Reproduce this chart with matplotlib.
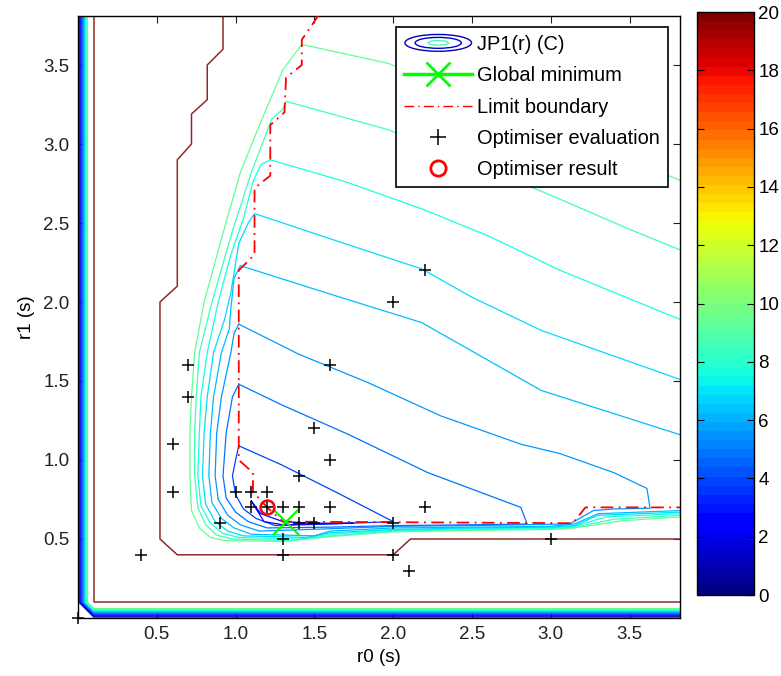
import numpy as np
import matplotlib
matplotlib.use("Agg")
import matplotlib.pyplot as plt
from matplotlib.colors import Normalize
from matplotlib.cm import ScalarMappable
from matplotlib.lines import Line2D
from matplotlib.patches import Ellipse
from matplotlib.legend_handler import HandlerBase

plt.rcParams['font.family'] = ['Liberation Sans', 'DejaVu Sans']

# contour lines of JP1(r) (r0, r1)
lvl10_x = [3.82, 3.5, 3.0, 2.5, 1.97, 1.42, 1.30, 1.16, 1.03, 0.91, 0.80, 0.74, 0.72, 0.71, 0.71, 0.72, 0.77, 0.84, 0.93, 1.3, 1.6, 2.0, 2.5, 3.0, 3.15, 3.45, 3.82]
lvl10_y = [2.77, 2.9, 3.1, 3.3, 3.51, 3.63, 3.47, 3.14, 2.82, 2.4, 2.0, 1.68, 1.4, 1.17, 0.9, 0.68, 0.57, 0.51, 0.49, 0.485, 0.515, 0.545, 0.555, 0.56, 0.57, 0.615, 0.64]
lvl9_x = [3.82, 3.5, 3.06, 2.87, 2.4, 1.97, 1.32, 1.30, 1.23, 1.10, 0.98, 0.85, 0.77, 0.75, 0.74, 0.74, 0.76, 0.81, 0.88, 0.98, 1.35, 1.6, 2.0, 2.5, 3.0, 3.15, 3.4, 3.82]
lvl9_y = [2.33, 2.46, 2.65, 2.73, 2.91, 3.09, 3.27, 3.22, 3.16, 2.82, 2.45, 2.0, 1.68, 1.4, 1.17, 0.9, 0.7, 0.59, 0.525, 0.5, 0.49, 0.52, 0.55, 0.56, 0.565, 0.575, 0.625, 0.65]
lvl8_x = [3.82, 3.06, 2.6, 2.18, 1.7, 1.22, 1.16, 1.11, 1.05, 0.97, 0.89, 0.82, 0.78, 0.77, 0.76, 0.78, 0.84, 0.92, 1.02, 1.4, 1.6, 2.0, 2.5, 3.0, 3.15, 3.35, 3.82]
lvl8_y = [1.89, 2.2, 2.42, 2.59, 2.76, 2.90, 2.87, 2.76, 2.53, 2.3, 2.0, 1.68, 1.4, 1.17, 0.9, 0.71, 0.6, 0.535, 0.51, 0.5, 0.53, 0.555, 0.565, 0.57, 0.58, 0.64, 0.66]
lvl7_x = [3.82, 2.94, 2.5, 2.18, 1.6, 1.12, 1.08, 1.02, 0.97, 0.93, 0.86, 0.82, 0.80, 0.79, 0.81, 0.87, 0.95, 1.05, 1.45, 1.6, 2.0, 2.5, 3.0, 3.15, 3.3, 3.82]
lvl7_y = [1.51, 1.82, 2.03, 2.21, 2.4, 2.56, 2.5, 2.37, 2.06, 1.89, 1.68, 1.4, 1.17, 0.9, 0.72, 0.61, 0.55, 0.52, 0.51, 0.54, 0.56, 0.57, 0.575, 0.585, 0.65, 0.67]
lvl6_x = [3.82, 2.94, 2.18, 1.6, 1.03, 0.99, 0.97, 0.96, 0.91, 0.86, 0.84, 0.83, 0.85, 0.91, 0.99, 1.1, 1.5, 1.6, 2.0, 2.5, 3.0, 3.15, 3.3, 3.82]
lvl6_y = [1.16, 1.44, 1.87, 2.05, 2.23, 2.15, 1.96, 1.83, 1.68, 1.4, 1.17, 0.9, 0.73, 0.63, 0.57, 0.53, 0.52, 0.55, 0.57, 0.575, 0.58, 0.595, 0.66, 0.68]
lvl5_x = [1.02, 1.4, 1.84, 2.30, 2.81, 3.06, 3.4, 3.61, 3.63, 3.4, 3.27, 3.2, 3.12, 2.5, 2.0, 1.6, 1.15, 1.03, 0.95, 0.89, 0.87, 0.88, 0.91, 0.97, 0.99, 1.02]
lvl5_y = [1.86, 1.67, 1.49, 1.28, 1.10, 1.04, 0.92, 0.82, 0.695, 0.69, 0.68, 0.64, 0.595, 0.585, 0.58, 0.565, 0.55, 0.59, 0.65, 0.75, 0.9, 1.17, 1.4, 1.68, 1.8, 1.86]
lvl4_x = [1.02, 1.29, 1.72, 2.22, 2.81, 2.85, 2.5, 2.0, 1.6, 1.2, 1.08, 1.0, 0.94, 0.92, 0.94, 0.98, 1.02]
lvl4_y = [1.48, 1.35, 1.16, 0.92, 0.70, 0.595, 0.59, 0.585, 0.575, 0.57, 0.61, 0.67, 0.76, 0.9, 1.17, 1.4, 1.48]
lvl3_x = [1.02, 1.29, 1.65, 2.0, 1.6, 1.25, 1.13, 1.05, 1.0, 0.98, 1.0, 1.02]
lvl3_y = [1.09, 0.97, 0.79, 0.61, 0.595, 0.585, 0.63, 0.69, 0.78, 0.9, 1.0, 1.09]
lvl2_x = [1.10, 1.16, 1.3, 1.5, 1.75, 1.5, 1.3, 1.18, 1.10]
lvl2_y = [0.74, 0.66, 0.61, 0.60, 0.60, 0.595, 0.59, 0.61, 0.74]

line_x = [lvl10_x, lvl9_x, lvl8_x, lvl7_x, lvl6_x, lvl5_x, lvl4_x, lvl3_x, lvl2_x]
line_y = [lvl10_y, lvl9_y, lvl8_y, lvl7_y, lvl6_y, lvl5_y, lvl4_y, lvl3_y, lvl2_y]
# contour values, estimated from the line colours
line_levels = [9.4, 8.5, 7.6, 6.8, 6.2, 5.5, 4.8, 3.8, 2.6]

# crowded contours hugging the r0 = 0 and r1 = 0 edges
edge_levels = [0.5, 1.5, 2.5, 3.5, 4.5, 5.5, 6.5, 7.5, 8.5, 9.5]
edge_offsets = [0.006, 0.012, 0.018, 0.024, 0.03, 0.036, 0.042, 0.048, 0.054, 0.06]

# top-level contour (dark red)
outer_red_x = [0.1, 0.1, 3.82]
outer_red_y = [3.82, 0.1, 0.1]
inner_red_x = [0.92, 0.92, 0.82, 0.82, 0.72, 0.72, 0.63, 0.63, 0.52, 0.52, 0.63, 2.0, 2.11, 3.82]
inner_red_y = [3.82, 3.6, 3.5, 3.28, 3.19, 3.0, 2.9, 2.1, 2.0, 0.5, 0.4, 0.4, 0.5, 0.5]

# limit boundary
limit_x = [1.53, 1.42, 1.42, 1.32, 1.31, 1.22, 1.22, 1.12, 1.12, 1.02, 1.02, 1.11, 1.11, 1.2, 1.3, 3.14, 3.22, 3.82]
limit_y = [3.82, 3.66, 3.5, 3.42, 3.2, 3.12, 2.8, 2.72, 2.3, 2.2, 1.0, 0.92, 0.8, 0.7, 0.61, 0.6, 0.7, 0.7]

# optimiser evaluations
eval_x = [2.2, 2.0, 1.6, 1.5, 1.6, 1.4, 0.7, 0.7, 0.6, 0.6, 0.9, 0.4, 1.0, 1.1, 1.2, 1.1, 1.2, 1.3, 1.4,
          1.4, 1.5, 1.6, 1.3, 1.3, 2.0, 2.0, 2.1, 2.2, 3.0, 0.0]
eval_y = [2.2, 2.0, 1.6, 1.2, 1.0, 0.9, 1.6, 1.4, 1.1, 0.8, 0.6, 0.4, 0.8, 0.8, 0.8, 0.7, 0.7, 0.7, 0.7,
          0.6, 0.6, 0.7, 0.5, 0.4, 0.6, 0.4, 0.3, 0.7, 0.5, 0.0]
result_x, result_y = [1.2], [0.7]
global_x, global_y = [1.32], [0.61]

cmap = plt.get_cmap('jet')
norm = Normalize(0, 20)


class ContourKey:
    pass


class ContourKeyHandler(HandlerBase):
    def create_artists(self, legend, orig_handle, xdescent, ydescent, width, height, fontsize, trans):
        cx = width / 2 - xdescent
        cy = height / 2 - ydescent
        arts = []
        for w, h, c in [(width * 0.98, height * 1.2, cmap(norm(1))),
                        (width * 0.68, height * 0.78, cmap(norm(1.5))),
                        (width * 0.3, height * 0.33, cmap(norm(8.5)))]:
            arts.append(Ellipse((cx, cy), w, h, fill=False, edgecolor=c, lw=1.0, transform=trans))
        return arts


fig = plt.figure(figsize=(7.81, 6.76), dpi=100)
ax = fig.add_axes([0.0999, 0.0858, 0.7708, 0.8905])
cax = fig.add_axes([0.8924, 0.1198, 0.073, 0.8624])

for xs, ys, lv in zip(line_x, line_y, line_levels):
    ax.plot(xs, ys, color=cmap(norm(lv)), lw=0.9, zorder=2)

for lv, d in zip(edge_levels, edge_offsets):
    ax.plot([d, d, 0.1, 3.82], [3.82, 0.1, d, d], color=cmap(norm(lv)), lw=0.9, zorder=2)

ax.plot(outer_red_x, outer_red_y, color='#8e2a2a', lw=1.1, zorder=2)
ax.plot(inner_red_x, inner_red_y, color='#8e2a2a', lw=1.1, zorder=2)

ax.plot(limit_x, limit_y, color='red', lw=1.3, ls=(0, (7, 3, 1, 3)), zorder=3)
ax.plot(global_x, global_y, 'x', color=(0, 1, 0), ms=19, mew=1.6, zorder=4)
ax.plot(eval_x, eval_y, '+', color='black', ms=9, mew=1.1, zorder=5, clip_on=False)
ax.plot(result_x, result_y, 'o', mfc='none', mec='red', ms=10, mew=1.8, zorder=6)

ax.set_xlim(0, 3.82)
ax.set_ylim(0, 3.81)
ax.set_xticks([0.5, 1.0, 1.5, 2.0, 2.5, 3.0, 3.5])
ax.set_yticks([0.5, 1.0, 1.5, 2.0, 2.5, 3.0, 3.5])
ax.set_xticklabels(['0.5', '1.0', '1.5', '2.0', '2.5', '3.0', '3.5'])
ax.set_yticklabels(['0.5', '1.0', '1.5', '2.0', '2.5', '3.0', '3.5'])
ax.tick_params(direction='in', top=True, right=True, length=5, labelsize=13.5, pad=6, colors='#222222')
ax.set_xlabel('r0 (s)', fontsize=13.5, labelpad=4)
ax.set_ylabel('r1 (s)', fontsize=13.5, labelpad=6)
for sp in ax.spines.values():
    sp.set_linewidth(1.0)

handles = [ContourKey(),
           Line2D([], [], color=(0, 1, 0), lw=2.5, marker='x', ms=17, mew=2),
           Line2D([], [], color='red', lw=1.0, ls=(0, (7, 3, 1, 3))),
           Line2D([], [], color='black', ls='none', marker='+', ms=11, mew=1.1),
           Line2D([], [], color='red', ls='none', marker='o', mfc='none', ms=11, mew=2)]
labels = ['JP1(r) (C)', 'Global minimum', 'Limit boundary', 'Optimiser evaluation', 'Optimiser result']
leg = ax.legend(handles, labels, handler_map={ContourKey: ContourKeyHandler()},
                loc='upper right', bbox_to_anchor=(0.98, 0.982), borderaxespad=0,
                fontsize=14.4, fancybox=False, framealpha=1, edgecolor='black',
                handlelength=3.4, handletextpad=0.25, labelspacing=0.62, borderpad=0.4)
leg.get_frame().set_linewidth(1.2)
leg.set_zorder(10)

cb = fig.colorbar(ScalarMappable(norm=norm, cmap=plt.get_cmap('jet', 64)), cax=cax,
                  ticks=list(range(0, 21, 2)))
cax.tick_params(direction='in', left=True, right=True, length=5, labelsize=13.5, pad=3)
cb.outline.set_linewidth(1.0)

fig.savefig('out.png', dpi=100)
